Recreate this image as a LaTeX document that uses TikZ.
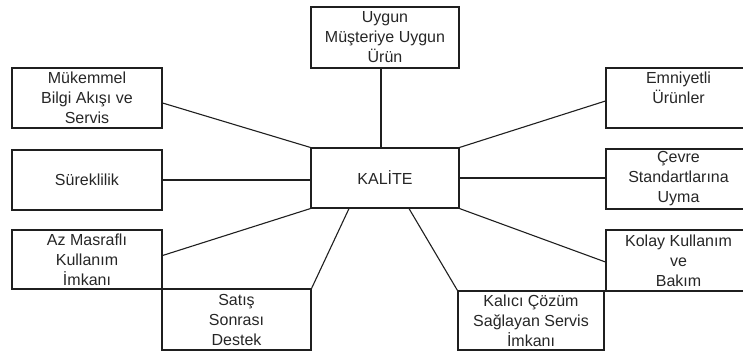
\documentclass[tikz,border=0pt]{standalone}
\usepackage{fontspec}
\setmainfont{Liberation Sans}
\begin{document}
\begin{tikzpicture}[x=1pt,y=-1pt,
  box/.style={draw=black!88, line width=1.1pt, inner sep=0pt, align=center,
    text=black!85, font=\fontsize{16}{20}\selectfont},
  link/.style={draw=black!88, line width=1.1pt}]
\useasboundingbox (0,0) rectangle (743,351);
\clip (0,0) rectangle (743,351);

% central box
\node[box, minimum width=148pt, minimum height=60pt] (kal) at (385,178) {KALİTE};

% surrounding boxes
\node[box, minimum width=148pt, minimum height=61pt] (uyg) at (385,37.5) {Uygun\\Müşteriye Uygun\\Ürün};
\node[box, minimum width=150pt, minimum height=60pt] (muk) at (87,98) {Mükemmel\\Bilgi Akışı ve\\Servis};
\node[box, minimum width=150pt, minimum height=60pt] (sur) at (87,180) {Süreklilik};
\node[box, minimum width=150pt, minimum height=59pt] (az) at (87,259.5) {Az Masraflı\\Kullanım\\İmkanı};
\node[box, minimum width=149pt, minimum height=61pt] (sat) at (236.5,319.5) {Satış\\Sonrası\\Destek};
\node[box, minimum width=146pt, minimum height=59pt] (kci) at (531,320.5) {Kalıcı Çözüm\\Sağlayan Servis\\İmkanı};
\node[box, minimum width=145pt, minimum height=60pt] (emn) at (678.5,98) {Emniyetli\\Ürünler\\\mbox{}};
\node[box, minimum width=145pt, minimum height=60pt] (cev) at (678.5,179) {Çevre\\Standartlarına\\Uyma};
\node[box, minimum width=145pt, minimum height=61pt] (kol) at (678.5,260.5) {Kolay Kullanım\\ve\\Bakım};

% connectors to the central box
\draw[link] ([xshift=-4pt]uyg.south) -- ([xshift=-4pt]kal.north);
\draw[link] ([yshift=-5pt]muk.east) -- (kal.north west);
\draw[link] (sur.east) -- (sur.east -| kal.west);
\draw[link] ([yshift=4pt]az.east) -- (kal.south west);
\draw[link] ([xshift=-36pt]kal.south) -- (sat.north east);
\draw[link] ([xshift=24pt]kal.south) -- (kci.north west);
\draw[link] (kal.north east) -- ([yshift=-3pt]emn.west);
\draw[link] (kal.east) -- (kal.east -| cev.west);
\draw[link] (kal.south east) -- ([yshift=-1.5pt]kol.west);
\end{tikzpicture}
\end{document}
